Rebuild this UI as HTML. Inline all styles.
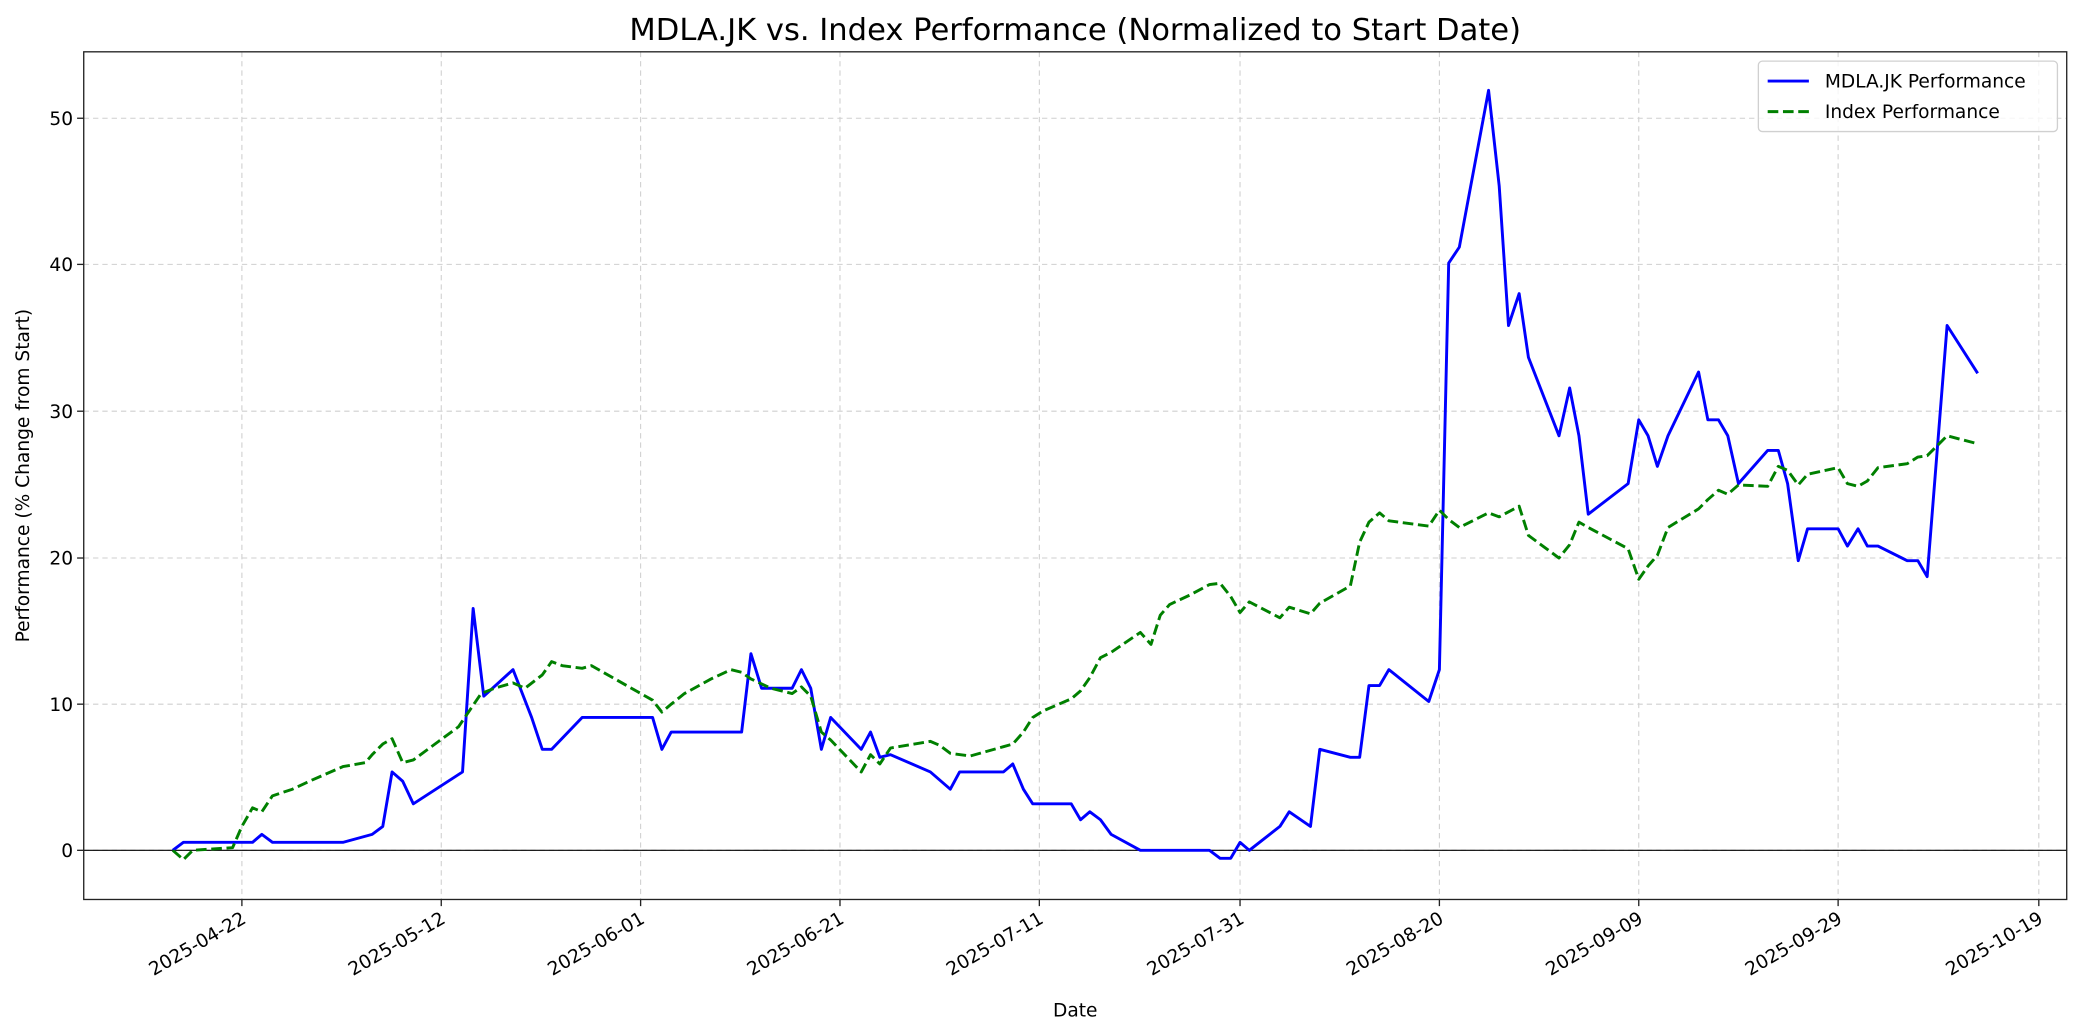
<!DOCTYPE html>
<html><head><meta charset="utf-8"><style>html,body{margin:0;padding:0;background:#fff}svg{display:block}</style></head>
<body>
<svg width="2084" height="1035" viewBox="0 0 1568 779" preserveAspectRatio="none" xmlns="http://www.w3.org/2000/svg" font-family="'DejaVu Sans','Liberation Sans',sans-serif">
<rect width="1568" height="779" fill="#fff"/>
<g stroke="#cfcfcf" stroke-width="0.8" stroke-dasharray="4,3">
<line x1="182" y1="39" x2="182" y2="677"/><line x1="332" y1="39" x2="332" y2="677"/><line x1="482" y1="39" x2="482" y2="677"/><line x1="632" y1="39" x2="632" y2="677"/><line x1="782" y1="39" x2="782" y2="677"/><line x1="933" y1="39" x2="933" y2="677"/><line x1="1083" y1="39" x2="1083" y2="677"/><line x1="1233" y1="39" x2="1233" y2="677"/><line x1="1383" y1="39" x2="1383" y2="677"/><line x1="1534" y1="39" x2="1534" y2="677"/>
<line x1="63" y1="640" x2="1555" y2="640"/><line x1="63" y1="530" x2="1555" y2="530"/><line x1="63" y1="420" x2="1555" y2="420"/><line x1="63" y1="309.5" x2="1555" y2="309.5"/><line x1="63" y1="199" x2="1555" y2="199"/><line x1="63" y1="89" x2="1555" y2="89"/>
</g>
<line x1="63" y1="640" x2="1555" y2="640" stroke="#000" stroke-width="0.9"/>
<polyline fill="none" stroke="#0000ff" stroke-width="2.2" stroke-linejoin="round" points="130,640 138,634 190,634 197,628 205,634 258,634 280,628 288,622 295,581 303,588 311,605 348,581 356,458 364,524 386,504 400,540 408,564 415,564 438,540 491,540 498,564 505,551 558,551 565,492 573,518 596,518 603,504 610,518 618,564 625,540 648,564 655,551 662,570 670,568 700,581 715,594 722,581 755,581 762,575 770,594 777,605 806,605 813,617 820,611 828,617 836,628 858,640 910,640 918,646 926,646 933,634 940,640 963,622 970,611 986,622 993,564 1016,570 1023,570 1030,516 1038,516 1045,504 1075,528 1083,504 1090,198 1098,186 1120,68 1128,140 1135,245 1143,221 1150,269 1173,328 1181,292 1188,328 1195,387 1225,364 1233,316 1240,328 1247,351 1255,328 1278,280 1285,316 1293,316 1300,328 1308,364 1330,339 1338,339 1345,364 1353,422 1360,398 1383,398 1390,411 1398,398 1405,411 1413,411 1435,422 1443,422 1450,434 1465,245 1488,281"/>
<polyline fill="none" stroke="#008000" stroke-width="2.2" stroke-dasharray="8,3.5" stroke-linejoin="round" points="130,640 138,647 145,640 175,638 182,622 190,608 197,611 205,599 220,594 235,587 258,577 275,574 280,568 288,560 295,556 303,574 311,572 330,558 345,547 362,522 372,518 386,514 395,518 408,508 415,498 423,501 438,503 445,501 491,527 498,536 505,530 515,522 535,511 550,504 558,506 565,511 580,518 596,522 603,517 610,524 618,551 625,557 648,581 655,568 662,575 670,563 700,558 707,561 715,567 730,569 755,562 762,560 770,551 777,540 785,535 806,526 813,520 820,510 828,495 836,491 858,476 866,485 873,463 880,455 895,448 910,440 918,439 926,449 933,461 940,453 963,465 970,457 986,462 993,454 1016,441 1023,408 1030,393 1038,386 1045,392 1075,396 1083,384 1090,391 1098,397 1120,386 1128,389 1143,381 1150,403 1173,420 1181,410 1188,393 1195,397 1225,413 1233,436 1240,426 1247,418 1255,397 1278,383 1285,376 1293,369 1300,372 1308,365 1330,366 1338,351 1345,354 1353,365 1360,357 1383,352 1390,364 1398,366 1405,362 1413,352 1435,349 1443,344 1450,343 1465,328 1488,334"/>
<rect x="63" y="39" width="1492" height="638" fill="none" stroke="#222" stroke-width="1"/>
<g stroke="#222" stroke-width="1">
<line x1="182" y1="677" x2="182" y2="682"/><line x1="332" y1="677" x2="332" y2="682"/><line x1="482" y1="677" x2="482" y2="682"/><line x1="632" y1="677" x2="632" y2="682"/><line x1="782" y1="677" x2="782" y2="682"/><line x1="933" y1="677" x2="933" y2="682"/><line x1="1083" y1="677" x2="1083" y2="682"/><line x1="1233" y1="677" x2="1233" y2="682"/><line x1="1383" y1="677" x2="1383" y2="682"/><line x1="1534" y1="677" x2="1534" y2="682"/>
<line x1="58" y1="640" x2="63" y2="640"/><line x1="58" y1="530" x2="63" y2="530"/><line x1="58" y1="420" x2="63" y2="420"/><line x1="58" y1="309.5" x2="63" y2="309.5"/><line x1="58" y1="199" x2="63" y2="199"/><line x1="58" y1="89" x2="63" y2="89"/>
</g>
<g font-size="14" text-anchor="end" fill="#000">
<text x="55" y="645">0</text><text x="55" y="535">10</text><text x="55" y="425">20</text><text x="55" y="314.5">30</text><text x="55" y="204">40</text><text x="55" y="94">50</text>
</g>
<g font-size="14" text-anchor="end" fill="#000">
<text transform="translate(186,694) rotate(-30)">2025-04-22</text>
<text transform="translate(336,694) rotate(-30)">2025-05-12</text>
<text transform="translate(486,694) rotate(-30)">2025-06-01</text>
<text transform="translate(636,694) rotate(-30)">2025-06-21</text>
<text transform="translate(786,694) rotate(-30)">2025-07-11</text>
<text transform="translate(937,694) rotate(-30)">2025-07-31</text>
<text transform="translate(1087,694) rotate(-30)">2025-08-20</text>
<text transform="translate(1237,694) rotate(-30)">2025-09-09</text>
<text transform="translate(1387,694) rotate(-30)">2025-09-29</text>
<text transform="translate(1538,694) rotate(-30)">2025-10-19</text>
</g>
<text x="809" y="765" font-size="14" text-anchor="middle">Date</text>
<text transform="translate(22,358) rotate(-90)" font-size="14" text-anchor="middle">Performance (% Change from Start)</text>
<text x="809" y="30" font-size="23" text-anchor="middle">MDLA.JK vs. Index Performance (Normalized to Start Date)</text>
<rect x="1323" y="46" width="225" height="53" rx="3" fill="#fff" fill-opacity="0.8" stroke="#d0d0d0" stroke-width="1"/>
<line x1="1330" y1="61" x2="1361" y2="61" stroke="#0000ff" stroke-width="2.2"/>
<line x1="1330" y1="84" x2="1361" y2="84" stroke="#008000" stroke-width="2.2" stroke-dasharray="8,3.5"/>
<text x="1373" y="66" font-size="14">MDLA.JK Performance</text>
<text x="1373" y="89" font-size="14">Index Performance</text>
</svg>
</body></html>
